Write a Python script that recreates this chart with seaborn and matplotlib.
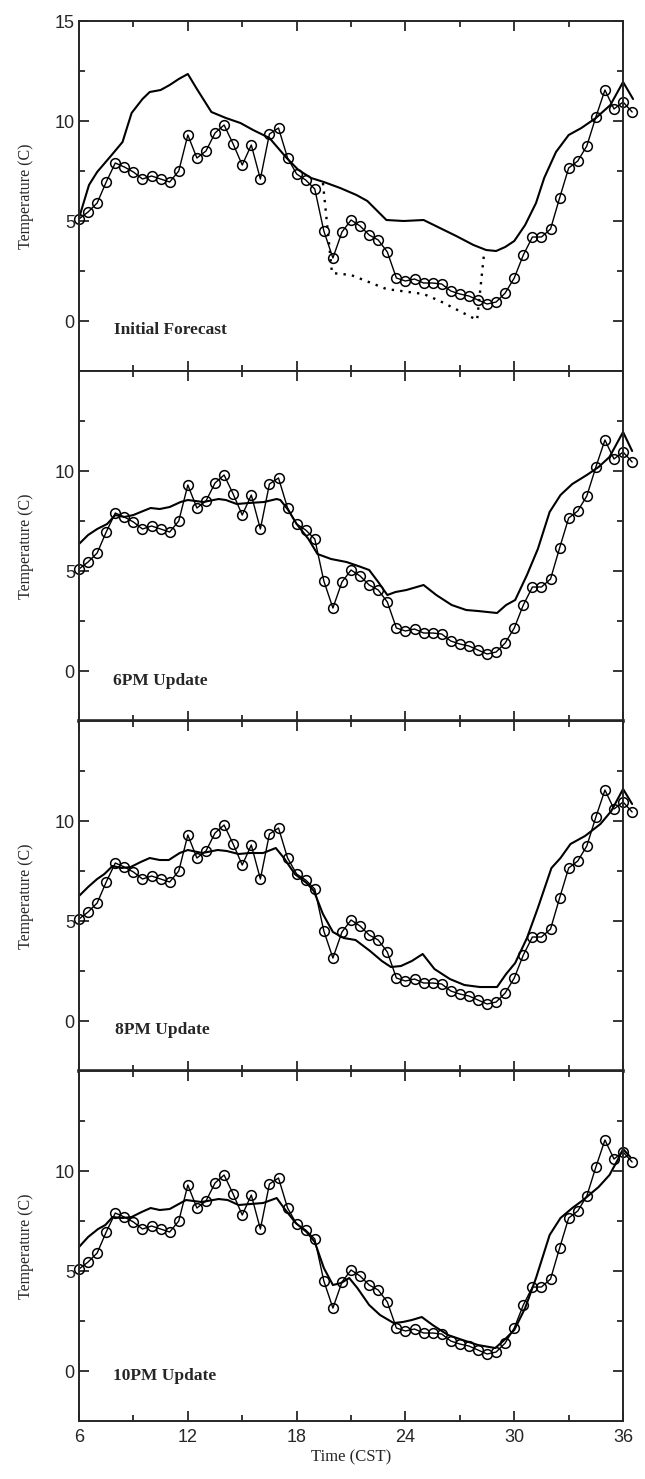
import numpy as np
import matplotlib
matplotlib.use("Agg")
import matplotlib.pyplot as plt
import seaborn as sns

# observed temperatures, every half hour from 6 to 36.5 CST
obs_temp = [5.1, 5.45, 5.9, 6.95, 7.9, 7.7, 7.45, 7.1, 7.25, 7.1,
            6.95, 7.5, 9.3, 8.15, 8.5, 9.4, 9.8, 8.85, 7.8, 8.8,
            7.1, 9.35, 9.65, 8.15, 7.35, 7.05, 6.6, 4.5, 3.15, 4.45,
            5.05, 4.75, 4.3, 4.05, 3.45, 2.15, 2.0, 2.1, 1.9, 1.9,
            1.85, 1.5, 1.35, 1.25, 1.05, 0.85, 0.95, 1.4, 2.15, 3.3,
            4.2, 4.2, 4.6, 6.15, 7.65, 8.0, 8.75, 10.2, 11.55, 10.6,
            10.95, 10.45]
obs_hours = np.arange(len(obs_temp)) * 0.5 + 6

# initial forecast
fc1_hours = [6.0, 6.55, 7.0, 7.8, 8.4, 8.9, 9.5, 9.9, 10.5, 11.0, 11.5, 12.0,
             12.5, 13.3, 14.1, 14.9, 15.6, 16.5, 17.45, 18.1, 18.8, 19.5,
             20.4, 21.3, 21.9, 22.95, 23.9, 25.0, 25.9, 26.8, 27.75, 28.45,
             29.0, 29.5, 30.0, 30.6, 31.2, 31.65, 32.3, 33.0, 33.7, 34.5,
             35.3, 36.0, 36.55]
fc1_temp = [5.15, 6.8, 7.45, 8.3, 8.95, 10.4, 11.1, 11.45, 11.55, 11.8, 12.1,
            12.35, 11.6, 10.45, 10.15, 9.9, 9.55, 9.15, 8.15, 7.55, 7.15,
            6.95, 6.65, 6.3, 6.0, 5.05, 5.0, 5.05, 4.65, 4.25, 3.8, 3.55,
            3.5, 3.7, 4.0, 4.8, 5.9, 7.15, 8.45, 9.3, 9.65, 10.15, 10.8,
            11.95, 11.1]

# dotted adjustment in the initial forecast panel
dot_hours = [19.45, 19.95, 21.0, 22.95, 25.0, 25.9, 27.95, 28.35]
dot_temp = [6.9, 2.4, 2.3, 1.6, 1.35, 1.0, 0.05, 3.5]

# 6PM update
fc2_hours = [6.0, 6.5, 7.0, 7.55, 8.0, 8.5, 9.0, 9.4, 9.95, 10.45, 11.0, 11.6,
             12.0, 12.85, 13.7, 14.1, 14.7, 15.35, 16.2, 16.9, 17.1, 17.5,
             18.0, 18.65, 19.15, 19.9, 20.75, 21.55, 22.0, 22.5, 23.0, 23.45,
             24.05, 25.0, 25.7, 26.55, 27.35, 28.0, 29.05, 29.55, 30.05, 30.7,
             31.3, 31.95, 32.55, 33.2, 34.0, 34.65, 35.25, 36.0, 36.5]
fc2_temp = [6.35, 6.8, 7.1, 7.35, 7.8, 7.7, 7.8, 7.95, 8.15, 8.1, 8.2, 8.45,
            8.55, 8.45, 8.6, 8.55, 8.35, 8.4, 8.45, 8.6, 8.55, 8.1, 7.35,
            6.6, 5.85, 5.6, 5.45, 5.2, 5.05, 4.45, 3.8, 3.95, 4.05, 4.3, 3.8,
            3.3, 3.05, 3.0, 2.9, 3.3, 3.55, 4.8, 6.1, 7.95, 8.8, 9.35, 9.8,
            10.2, 10.7, 11.95, 11.0]

# 8PM update
fc3_hours = [6.0, 6.5, 7.0, 7.4, 7.85, 8.35, 8.85, 9.4, 9.9, 10.45, 10.95,
             11.55, 12.0, 12.8, 13.65, 14.15, 14.8, 15.4, 16.15, 16.85, 17.3,
             17.9, 18.55, 18.95, 19.45, 20.0, 20.6, 21.25, 22.05, 22.7, 23.2,
             23.75, 24.35, 24.95, 25.6, 26.45, 27.25, 28.1, 29.05, 29.55,
             30.05, 30.7, 31.3, 32.05, 32.55, 33.1, 33.9, 34.75, 35.35, 36.0,
             36.5]
fc3_temp = [6.25, 6.7, 7.1, 7.35, 7.75, 7.65, 7.7, 7.95, 8.15, 8.05, 8.05,
            8.4, 8.55, 8.4, 8.55, 8.5, 8.35, 8.4, 8.4, 8.65, 8.15, 7.35, 6.9,
            6.5, 5.35, 4.45, 4.15, 4.05, 3.5, 3.0, 2.7, 2.75, 3.0, 3.35, 2.6,
            2.1, 1.8, 1.7, 1.7, 2.35, 2.9, 4.15, 5.65, 7.65, 8.15, 8.85, 9.25,
            9.85, 10.5, 11.6, 10.85]

# 10PM update
fc4_hours = [6.0, 6.5, 7.05, 7.45, 7.85, 8.4, 8.9, 9.45, 9.95, 10.45, 11.0,
             11.6, 11.9, 12.75, 13.7, 14.2, 14.8, 15.45, 16.15, 16.9, 17.3,
             17.95, 18.55, 19.0, 19.5, 20.0, 20.45, 20.9, 21.35, 22.0, 22.6,
             23.35, 23.85, 24.35, 24.9, 25.5, 26.35, 27.15, 28.0, 28.95,
             29.45, 30.0, 30.6, 31.2, 31.95, 32.55, 33.2, 33.8, 34.65, 35.25,
             35.7, 36.0, 36.4]
fc4_temp = [6.2, 6.7, 7.1, 7.3, 7.7, 7.65, 7.7, 7.95, 8.15, 8.05, 8.1, 8.4,
            8.55, 8.45, 8.6, 8.55, 8.3, 8.35, 8.4, 8.65, 8.15, 7.4, 6.95,
            6.45, 5.15, 4.3, 4.4, 4.65, 4.15, 3.3, 2.8, 2.4, 2.45, 2.55, 2.7,
            2.3, 1.8, 1.55, 1.3, 1.15, 1.55, 2.05, 3.15, 4.65, 6.8, 7.65,
            8.15, 8.55, 9.2, 9.8, 10.55, 11.1, 10.7]

panel_names = ["Initial Forecast", "6PM Update", "8PM Update", "10PM Update"]
label_pos = [(7.95, -0.45), (7.9, -0.5), (8.0, -0.45), (7.9, -0.25)]
forecasts = [(fc1_hours, fc1_temp), (fc2_hours, fc2_temp),
             (fc3_hours, fc3_temp), (fc4_hours, fc4_temp)]

x_major = [6, 12, 18, 24, 30, 36]
x_minor = [9, 15, 21, 27, 33]

sns.set_style("ticks")
plt.rcParams['font.family'] = ['Liberation Serif', 'DejaVu Serif']

fig, axes = plt.subplots(4, 1, sharex=True, figsize=(6.45, 14.79), dpi=100)
fig.subplots_adjust(left=0.1225, right=0.966, top=0.9858, bottom=0.0392,
                    hspace=0)

for i, ax in enumerate(axes):
    fx, fy = forecasts[i]
    sns.lineplot(x=fx, y=fy, ax=ax, color='black', lw=1.5,
                 estimator=None, sort=False, clip_on=False)
    if i == 0:
        sns.lineplot(x=dot_hours, y=dot_temp, ax=ax, color='black', lw=1.7,
                     linestyle=(0, (1.0, 2.6)), estimator=None, sort=False)
    sns.lineplot(x=obs_hours, y=obs_temp, ax=ax, color='black', lw=1.0,
                 marker='o', markersize=7, markerfacecolor='none',
                 markeredgecolor='black', markeredgewidth=1.1,
                 estimator=None, sort=False, clip_on=False)

    ax.set_xlim(6, 36)
    ax.set_ylim(-2.5, 15)
    ax.set_xticks(x_major)
    ax.set_xticks(x_minor, minor=True)
    ax.set_yticks([0, 5, 10, 15] if i == 0 else [0, 5, 10])
    ax.set_yticks([2.5, 7.5, 12.5], minor=True)
    ax.tick_params(which='both', direction='in', top=True, right=True,
                   width=1.3, labelsize=13)
    ax.tick_params(which='major', length=7.5)
    ax.tick_params(which='minor', length=4.5)
    ax.tick_params(axis='y', pad=3)
    ax.tick_params(axis='x', pad=6)
    for lab in ax.get_xticklabels() + ax.get_yticklabels():
        lab.set_family(['Liberation Sans', 'DejaVu Sans'])
    for sp in ax.spines.values():
        sp.set_linewidth(1.4)

    ax.set_ylabel('Temperature (C)', fontsize=11.5)
    ax.yaxis.set_label_coords(-0.082, 0.5)
    ax.set_xlabel('')
    ax.text(label_pos[i][0], label_pos[i][1], panel_names[i],
            fontsize=12.5, fontweight='bold', va='center', ha='left')

# the boundaries below the 6PM and 8PM panels are drawn heavier
axes[1].spines['bottom'].set_linewidth(2.6)
axes[2].spines['bottom'].set_linewidth(2.6)

axes[-1].set_xlabel('Time (CST)', fontsize=12, labelpad=2)

plt.savefig('out.png', dpi=100)
